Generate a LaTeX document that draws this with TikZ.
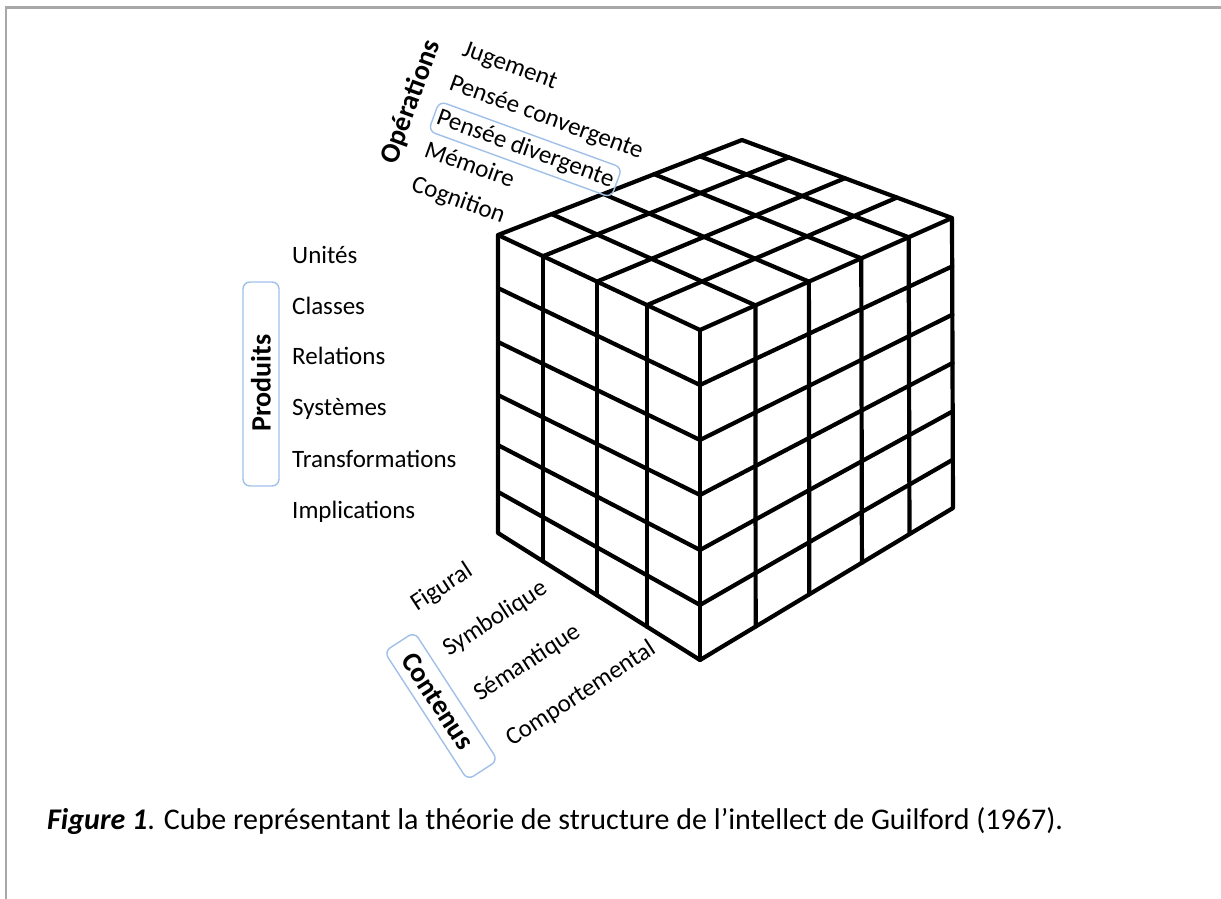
\documentclass[tikz,border=0pt]{standalone}
\usepackage{fontspec}
\setmainfont{Carlito}
\usetikzlibrary{calc}
\definecolor{framegray}{RGB}{168,168,168}
\definecolor{boxblue}{RGB}{160,192,232}
\tikzset{
  cubeline/.style={line width=4.2pt, line join=round, line cap=round, black},
  lbl/.style={font=\fontsize{25}{30}\selectfont, inner sep=0pt},
  boldlbl/.style={font=\fontsize{28}{32}\selectfont\bfseries, inner sep=0pt},
  caplbl/.style={font=\fontsize{30}{36}\selectfont, inner sep=0pt},
  bluebox/.style={draw=boxblue, line width=1.4pt, rounded corners=7pt},
  framestyle/.style={draw=framegray, line width=2.6pt},
}
\begin{document}
\begin{tikzpicture}[x=1pt,y=-1pt]
\useasboundingbox (0,0) rectangle (1221,899);
% frame
\coordinate (f1) at (6,899);
\coordinate (f2) at (6,7.5);
\coordinate (f3) at (1221,7.5);
\draw[framestyle] (f1) -- (f2) -- (f3);

% cube corners
\coordinate (L)  at (498,235);
\coordinate (F)  at (700,330);
\coordinate (R)  at (952,218);
\coordinate (B)  at (742,140);
\coordinate (LB) at (498,533);
\coordinate (FB) at (700,660);
\coordinate (RB) at (953,508);

% left face verticals
\foreach \t in {0.223,0.49,0.738}{
  \draw[cubeline] ($(L)!\t!(F)$) -- ($(LB)!\t!(FB)$);
}
% left face horizontals
\foreach \a/\b in {0.178/0.1667,0.359/0.3333,0.537/0.5,0.705/0.6667,0.862/0.8333}{
  \draw[cubeline] ($(L)!\a!(LB)$) -- ($(F)!\b!(FB)$);
}
% right face verticals
\foreach \t in {0.22,0.432,0.64,0.828}{
  \draw[cubeline] ($(F)!\t!(R)$) -- ($(FB)!\t!(RB)$);
}
% right face horizontals
\foreach \a in {0.1667,0.3333,0.5,0.6667,0.8333}{
  \draw[cubeline] ($(F)!\a!(FB)$) -- ($(R)!\a!(RB)$);
}
% top face
\foreach \t in {0.22,0.432,0.64,0.828}{
  \draw[cubeline] ($(L)!\t!(B)$) -- ($(F)!\t!(R)$);
}
\foreach \t in {0.223,0.49,0.738}{
  \draw[cubeline] ($(L)!\t!(F)$) -- ($(B)!\t!(R)$);
}
% outline
\draw[cubeline] (L) -- (B) -- (R) -- (RB) -- (FB) -- (LB) -- cycle;
\draw[cubeline] (L) -- (F) -- (R);
\draw[cubeline] (F) -- (FB);

% Operations
\node[boldlbl, rotate=70] (ops) at (411,102) {Opérations};
\node[lbl, rotate=-20, anchor=base west] (op1) at (461,55) {Jugement};
\node[lbl, rotate=-20, anchor=base west] (op2) at (448,89) {Pensée convergente};
\node[lbl, rotate=-20, anchor=base west, bluebox, inner xsep=4pt, inner ysep=5pt] (op3) at (431,122) {Pensée divergente};
\node[lbl, rotate=-20, anchor=base west] (op4) at (423,156) {Mémoire};
\node[lbl, rotate=-20, anchor=base west] (op5) at (410,190) {Cognition};

% Produits
\node[bluebox, minimum width=36pt, minimum height=204pt, inner sep=0pt] (pbox) at (261,384) {};
\node[boldlbl, rotate=90] (prod) at (261,383) {Produits};
\node[lbl, anchor=base west] (p1) at (292,263) {Unités};
\node[lbl, anchor=base west] (p2) at (292,314) {Classes};
\node[lbl, anchor=base west] (p3) at (292,364) {Relations};
\node[lbl, anchor=base west] (p4) at (292,415) {Systèmes};
\node[lbl, anchor=base west] (p5) at (292,467) {Transformations};
\node[lbl, anchor=base west] (p6) at (292,518) {Implications};

% Contenus
\node[bluebox, rotate=-57, minimum width=153pt, minimum height=36pt, inner sep=0pt] (cbox) at (441,706) {};
\node[boldlbl, rotate=-57] (cont) at (438,701) {Contenus};
\node[lbl, rotate=33, anchor=base west] (c1) at (417,612) {Figural};
\node[lbl, rotate=33, anchor=base west] (c2) at (449,657) {Symbolique};
\node[lbl, rotate=33, anchor=base west] (c3) at (480,702) {Sémantique};
\node[lbl, rotate=33, anchor=base west] (c4) at (512,747) {Comportemental};

% caption
\node[caplbl, anchor=base west] (cap) at (47,829) {\textbf{\textit{Figure 1}}. Cube représentant la théorie de structure de l’intellect de Guilford (1967).};
\end{tikzpicture}
\end{document}
